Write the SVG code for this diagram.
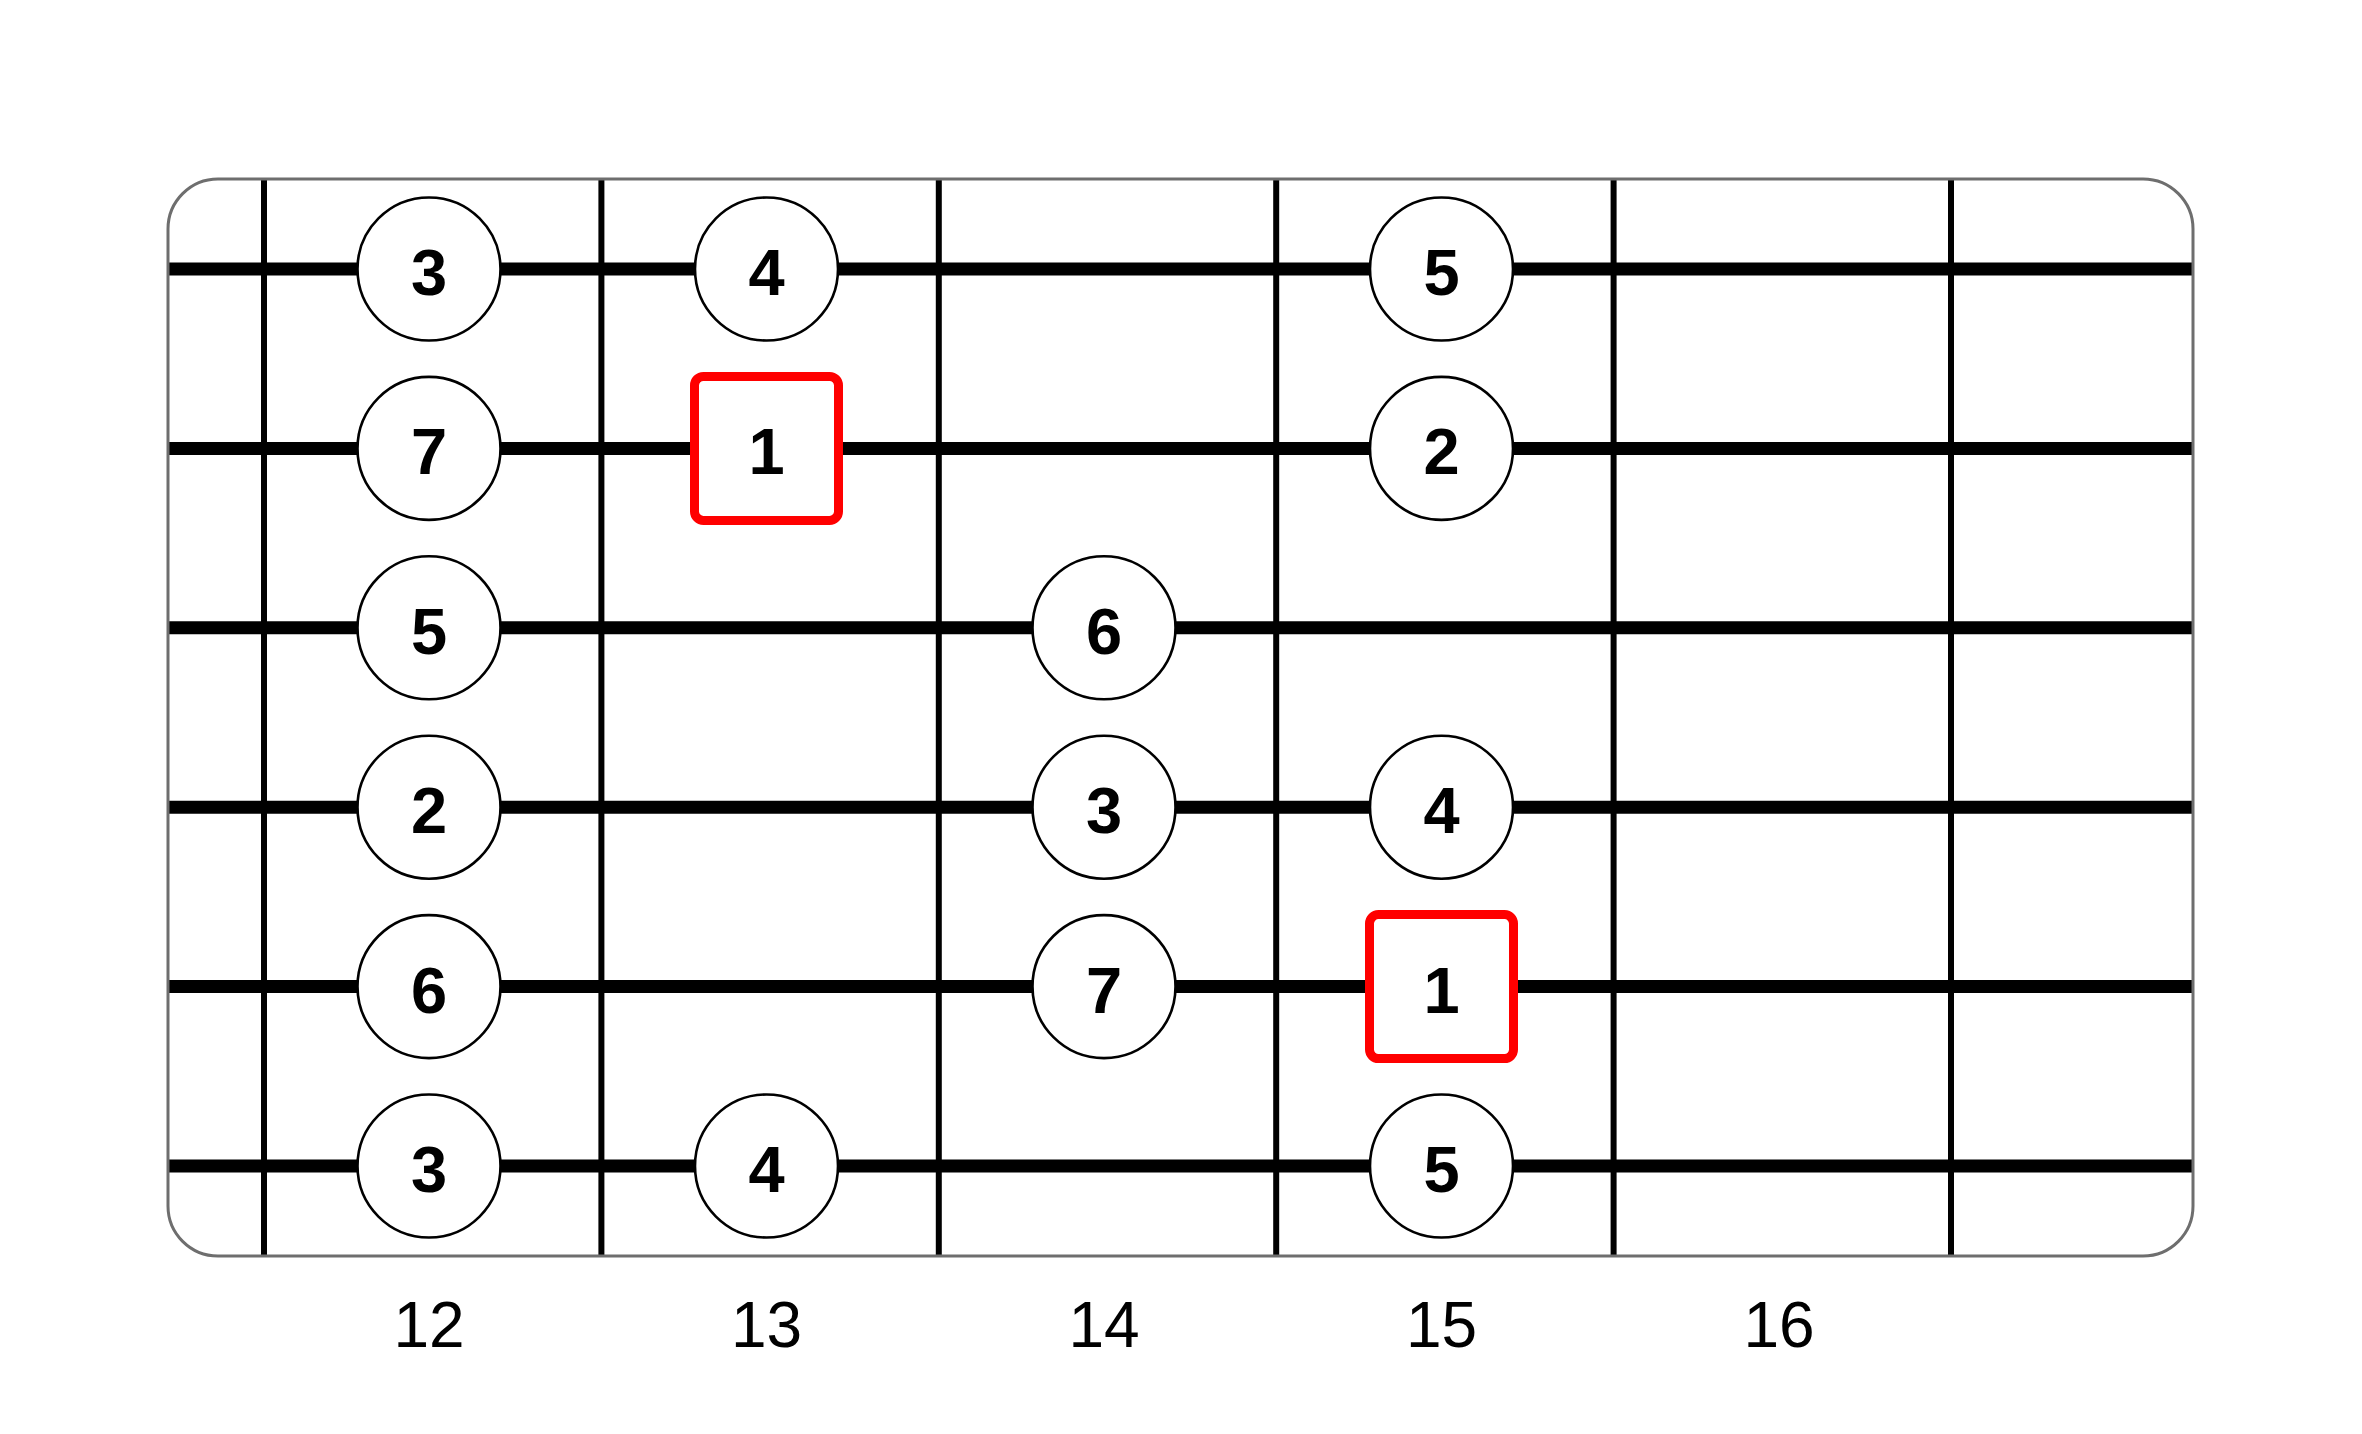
<svg xmlns="http://www.w3.org/2000/svg" width="2362" height="1434" viewBox="0 0 2362 1434">
<style>
.fret{stroke:#000;stroke-width:6}
.str{stroke:#000;stroke-width:13}
.frame{fill:none;stroke:#6e6e6e;stroke-width:3}
.note{fill:#fff;stroke:#000;stroke-width:2.6}
.root{fill:#fff;stroke:#ff0000;stroke-width:9}
.nt{font-family:"Liberation Sans",Arial,sans-serif;font-weight:bold;font-size:65px;text-anchor:middle;fill:#000}
.lbl{font-family:"Liberation Sans",Arial,sans-serif;font-size:64px;text-anchor:middle;fill:#000}
</style>
<rect width="2362" height="1434" fill="#fff"/>
<g id="fretboard">
<g id="frets">
<line class="fret" x1="264" y1="179" x2="264" y2="1256"/>
<line class="fret" x1="601.4" y1="179" x2="601.4" y2="1256"/>
<line class="fret" x1="938.8" y1="179" x2="938.8" y2="1256"/>
<line class="fret" x1="1276.2" y1="179" x2="1276.2" y2="1256"/>
<line class="fret" x1="1613.6" y1="179" x2="1613.6" y2="1256"/>
<line class="fret" x1="1951" y1="179" x2="1951" y2="1256"/>
</g>
<g id="connectors">
<line class="str" x1="168" y1="269" x2="2193" y2="269"/>
<line class="str" x1="168" y1="448.4" x2="2193" y2="448.4"/>
<line class="str" x1="168" y1="627.8" x2="2193" y2="627.8"/>
<line class="str" x1="168" y1="807.2" x2="2193" y2="807.2"/>
<line class="str" x1="168" y1="986.6" x2="2193" y2="986.6"/>
<line class="str" x1="168" y1="1166" x2="2193" y2="1166"/>
</g>
<rect class="frame" x="168" y="179" width="2025" height="1077" rx="50"/>
</g>
<g id="n1"><circle class="note" cx="429" cy="269" r="71.5"/><text class="nt" x="429" y="295">3</text></g>
<g id="n2"><circle class="note" cx="766.5" cy="269" r="71.5"/><text class="nt" x="766.5" y="295">4</text></g>
<g id="n3"><circle class="note" cx="1441.5" cy="269" r="71.5"/><text class="nt" x="1441.5" y="295">5</text></g>
<g id="n4"><circle class="note" cx="429" cy="448.4" r="71.5"/><text class="nt" x="429" y="474.4">7</text></g>
<g id="n5"><rect class="root" x="694.5" y="376.4" width="144" height="144" rx="9"/><text class="nt" x="766.5" y="474.4">1</text></g>
<g id="n6"><circle class="note" cx="1441.5" cy="448.4" r="71.5"/><text class="nt" x="1441.5" y="474.4">2</text></g>
<g id="n7"><circle class="note" cx="429" cy="627.8" r="71.5"/><text class="nt" x="429" y="653.8">5</text></g>
<g id="n8"><circle class="note" cx="1104" cy="627.8" r="71.5"/><text class="nt" x="1104" y="653.8">6</text></g>
<g id="n9"><circle class="note" cx="429" cy="807.2" r="71.5"/><text class="nt" x="429" y="833.2">2</text></g>
<g id="n10"><circle class="note" cx="1104" cy="807.2" r="71.5"/><text class="nt" x="1104" y="833.2">3</text></g>
<g id="n11"><circle class="note" cx="1441.5" cy="807.2" r="71.5"/><text class="nt" x="1441.5" y="833.2">4</text></g>
<g id="n12"><circle class="note" cx="429" cy="986.6" r="71.5"/><text class="nt" x="429" y="1012.6">6</text></g>
<g id="n13"><circle class="note" cx="1104" cy="986.6" r="71.5"/><text class="nt" x="1104" y="1012.6">7</text></g>
<g id="n14"><rect class="root" x="1369.5" y="914.6" width="144" height="144" rx="9"/><text class="nt" x="1441.5" y="1012.6">1</text></g>
<g id="n15"><circle class="note" cx="429" cy="1166" r="71.5"/><text class="nt" x="429" y="1192">3</text></g>
<g id="n16"><circle class="note" cx="766.5" cy="1166" r="71.5"/><text class="nt" x="766.5" y="1192">4</text></g>
<g id="n17"><circle class="note" cx="1441.5" cy="1166" r="71.5"/><text class="nt" x="1441.5" y="1192">5</text></g>
<g id="labels">
<text class="lbl" x="429" y="1347">12</text>
<text class="lbl" x="766.5" y="1347">13</text>
<text class="lbl" x="1104" y="1347">14</text>
<text class="lbl" x="1441.5" y="1347">15</text>
<text class="lbl" x="1779" y="1347">16</text>
</g>
</svg>
